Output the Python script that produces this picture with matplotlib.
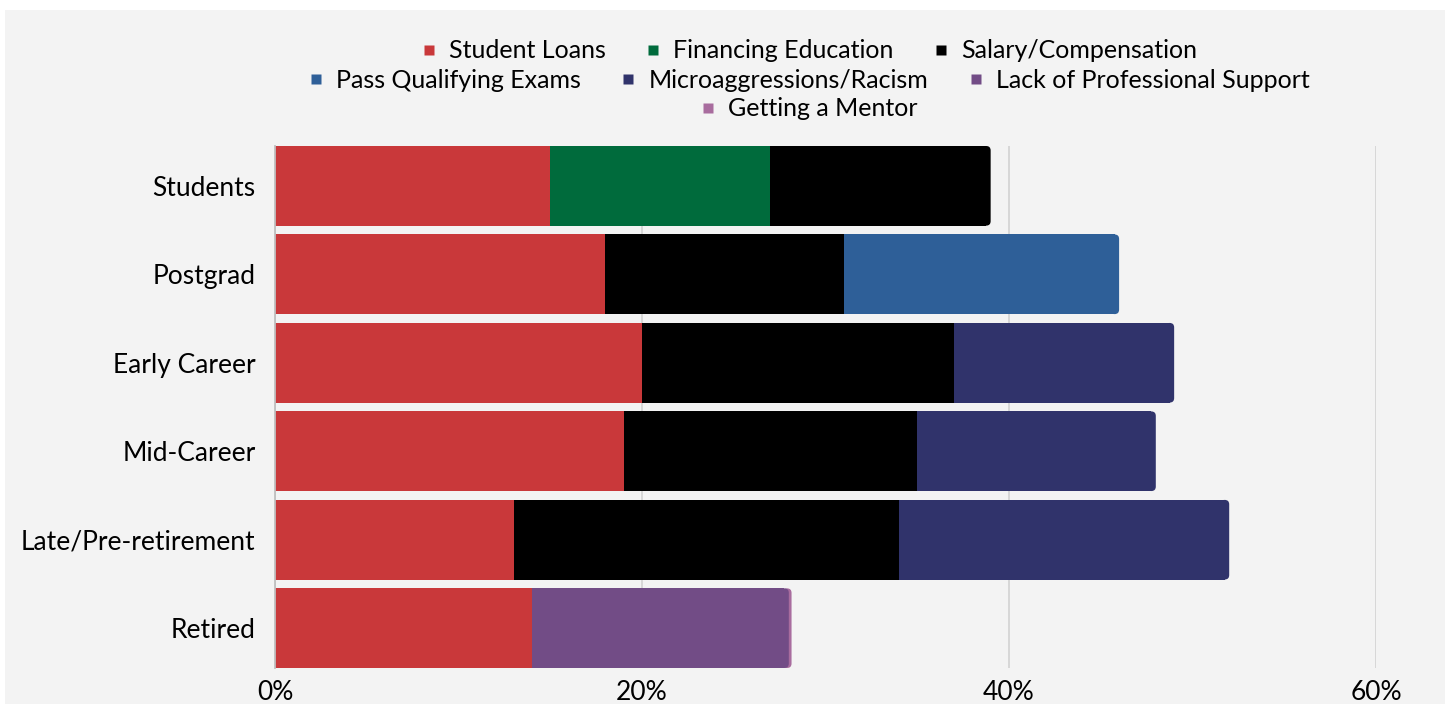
import numpy as np
import matplotlib
matplotlib.use("Agg")
import matplotlib.pyplot as plt
from matplotlib.patches import FancyBboxPatch, Rectangle
from matplotlib.lines import Line2D
from matplotlib.ticker import PercentFormatter

plt.rcParams['font.family'] = ['Lato', 'DejaVu Sans']

stages = ['Students', 'Postgrad', 'Early Career', 'Mid-Career',
          'Late/Pre-retirement', 'Retired']

# share of respondents (%) naming each barrier, by career stage
student_loans = [15, 18, 20, 19, 13, 14]
financing_education = [12, 0, 0, 0, 0, 0]
salary_compensation = [12, 13, 17, 16, 21, 0]
pass_qualifying_exams = [0, 15, 0, 0, 0, 0]
microaggressions_racism = [0, 0, 12, 13, 18, 0]
lack_of_support = [0, 0, 0, 0, 0, 14]
getting_a_mentor = [0, 0, 0, 0, 0, 0.15]

series = [
    ('Student Loans', student_loans, '#C9383A'),
    ('Financing Education', financing_education, '#006B3C'),
    ('Salary/Compensation', salary_compensation, '#000000'),
    ('Pass Qualifying Exams', pass_qualifying_exams, '#2E5F98'),
    ('Microaggressions/Racism', microaggressions_racism, '#30336B'),
    ('Lack of Professional Support', lack_of_support, '#724C86'),
    ('Getting a Mentor', getting_a_mentor, '#A86C9E'),
]

W, H, DPI = 1445, 704, 100
fig = plt.figure(figsize=(W / DPI, H / DPI), dpi=DPI, facecolor='white')
# light grey card behind the chart
fig.patches.append(Rectangle((5 / W, 0), 1, 1 - 10 / H, transform=fig.transFigure,
                             facecolor='#F3F3F3', edgecolor='none', zorder=-5))

left, right = 275 / W, 1376 / W
top, bottom = 1 - 146 / H, 1 - 668 / H
ax = fig.add_axes([left, bottom, right - left, top - bottom])
ax.set_facecolor('none')

xmax = 60
bar_h = 0.9
ax.set_xlim(0, xmax)
ax.set_ylim(len(stages) - 1 + bar_h / 2, -bar_h / 2)

# pixel scale, used to keep the rounded bar ends circular
px_x = (right - left) * W / xmax
px_y = (top - bottom) * H / (len(stages) - 1 + bar_h)
r_px = 4.5
rx = r_px / px_x
aspect = px_x / px_y

vals = np.array([s[1] for s in series], dtype=float)
lefts = np.vstack([np.zeros(len(stages)), np.cumsum(vals, axis=0)[:-1]])
rights = lefts + vals
totals = rights[-1]

for row in range(len(stages)):
    y0 = row - bar_h / 2
    # draw from the end backwards so earlier segments sit on top of later caps
    for k in range(len(series) - 1, -1, -1):
        w = vals[k, row]
        if w <= 0:
            continue
        l, rgt = lefts[k, row], rights[k, row]
        color = series[k][2]
        capped = rgt >= totals[row] - 2 * rx
        plain_end = rgt - rx if capped else rgt
        if plain_end > l:
            ax.add_patch(Rectangle((l, y0), plain_end - l, bar_h, facecolor=color,
                                   edgecolor='none', zorder=3))
        if capped:
            cap_l = rgt - 2 * rx
            ax.add_patch(FancyBboxPatch((cap_l, y0), rgt - cap_l, bar_h,
                                        boxstyle=f'round,pad=0,rounding_size={rx}',
                                        mutation_aspect=aspect,
                                        facecolor=color, edgecolor='none', zorder=3))

ax.set_yticks(range(len(stages)))
ax.set_yticklabels(stages)
ax.set_xticks([0, 20, 40, 60])
ax.xaxis.set_major_formatter(PercentFormatter(decimals=0))
ax.tick_params(axis='both', length=0, labelsize=19, colors='black')
ax.tick_params(axis='x', pad=9)
ax.tick_params(axis='y', pad=14)
ax.grid(axis='x', color='#D5D5D5', linewidth=1.3, zorder=1)
ax.set_axisbelow(True)
for side in ['top', 'right', 'bottom']:
    ax.spines[side].set_visible(False)
ax.spines['left'].set_color('#BFBFBF')
ax.spines['left'].set_linewidth(1.3)
ax.spines['left'].set_zorder(4)


def handle(color):
    return Line2D([], [], linestyle='none', marker='s', markersize=7,
                  markerfacecolor=color, markeredgecolor='none')


rows = [series[0:3], series[3:6], series[6:7]]
row_y = [51, 80, 109]
for items, yy in zip(rows, row_y):
    fig.legend([handle(c) for _, _, c in items], [n for n, _, _ in items],
               loc='center', bbox_to_anchor=(809 / W, 1 - yy / H),
               ncol=len(items), frameon=False, fontsize=18,
               handlelength=0.6, handletextpad=0.5, columnspacing=1.6,
               borderpad=0, borderaxespad=0)

fig.savefig('out.png', dpi=DPI, facecolor='white')
